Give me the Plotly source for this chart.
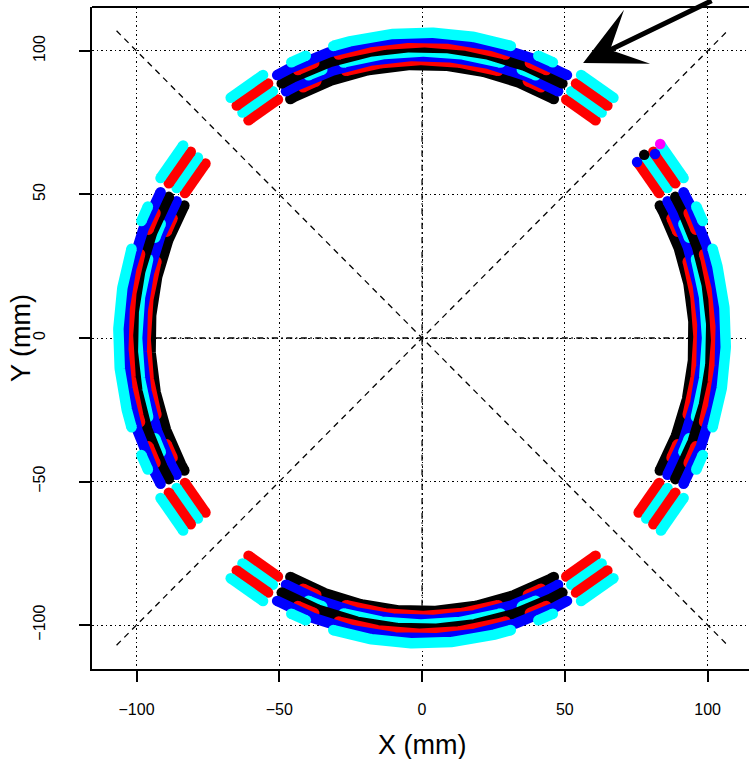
import numpy as np
import plotly.graph_objects as go

# ---------------- data ----------------
# centre angle (deg) of each of the four detector quadrants
quadrant_centers = [90, 0, 180, 270]

# main arc layers (drawn inner -> outer): colour, radius (mm), segments as angular offsets (deg) from quadrant centre
layer_colors = ["black", "red", "blue", "cyan", "black", "red", "blue", "cyan"]
layer_radii = [95.2, 96.8, 98.3, 99.8, 101.4, 103.0, 104.7, 106.4]
layer_segments = [
    [(-29.0, 29.0)],
    [(-25.5, -22.5), (-16.0, 16.0), (22.5, 25.5)],
    [(-29.0, 29.0)],
    [(-23.5, -20.5), (-16.0, 16.0), (20.5, 23.5)],
    [(-29.0, 29.0)],
    [(-25.0, -21.5), (-16.5, 16.5), (21.5, 25.0)],
    [(-29.0, 29.0)],
    [(-25.5, -22.5), (-17.0, 17.0), (22.5, 25.5)],
]

# end stubs of each quadrant (both sides)
stub_colors = ["red", "cyan", "red", "cyan"]
stub_radii = [97.2, 100.6, 103.8, 107.2]
stub_offsets = [(-38.7, -31.3), (31.3, 38.7)]

# single marked points at the upper right stubs
dot_x = [75.3, 77.8, 81.6, 83.4]
dot_y = [61.3, 63.8, 64.1, 67.6]
dot_colors = ["blue", "black", "blue", "magenta"]

# arrow head position (mm)
arrow_x, arrow_y = 56.4, 95.8

tick_vals = [-100, -50, 0, 50, 100]

color_map = {"black": "#000000", "red": "#FF0000", "blue": "#0000FF",
             "cyan": "#00FFFF", "magenta": "#FF00FF"}

BAND = 10.5
STEP = 0.25

fig = go.Figure()


def add_layer(radius, segments, color):
    xs, ys, cx, cy = [], [], [], []
    for qc in quadrant_centers:
        for a0, a1 in segments:
            n = int(abs(a1 - a0) / STEP) + 2
            ang = np.radians(qc + np.linspace(a0, a1, n))
            x = radius * np.cos(ang)
            y = radius * np.sin(ang)
            xs += list(x) + [None]
            ys += list(y) + [None]
            cx += [x[0], x[-1]]
            cy += [y[0], y[-1]]
    c = color_map[color]
    fig.add_trace(go.Scatter(x=xs, y=ys, mode="lines",
                             line=dict(color=c, width=BAND),
                             hoverinfo="skip", showlegend=False))
    fig.add_trace(go.Scatter(x=cx, y=cy, mode="markers",
                             marker=dict(color=c, size=BAND, line=dict(width=0)),
                             hoverinfo="skip", showlegend=False))


for r, segs, col in zip(layer_radii, layer_segments, layer_colors):
    add_layer(r, segs, col)

for r, col in zip(stub_radii, stub_colors):
    add_layer(r, stub_offsets, col)

fig.add_trace(go.Scatter(x=dot_x, y=dot_y, mode="markers",
                         marker=dict(color=[color_map[c] for c in dot_colors],
                                     size=BAND, line=dict(width=0)),
                         hoverinfo="skip", showlegend=False))

# ---------------- reference lines ----------------
shapes = []
shapes.append(dict(type="line", xref="x", yref="y", x0=-107, y0=107, x1=107, y1=-107,
                   line=dict(color="black", width=1.3, dash="6px,5px"), layer="below"))
shapes.append(dict(type="line", xref="x", yref="y", x0=-107, y0=-107, x1=107, y1=107,
                   line=dict(color="black", width=1.3, dash="6px,5px"), layer="below"))
shapes.append(dict(type="line", xref="x", yref="y", x0=-95, y0=0, x1=95, y1=0,
                   line=dict(color="black", width=1.3, dash="1.5px,3.5px,6px,3.5px"), layer="below"))
shapes.append(dict(type="line", xref="x", yref="y", x0=0, y0=-95, x1=0, y1=95,
                   line=dict(color="black", width=1.3, dash="1.5px,3.5px,6px,3.5px"), layer="below"))
shapes.append(dict(type="line", xref="paper", yref="paper", x0=0, y0=1, x1=1.05, y1=1,
                   line=dict(color="black", width=2)))

FONT = "Liberation Sans, Arial, Helvetica, sans-serif"

annotations = [
    dict(text="X (mm)", xref="x", yref="paper", x=0, y=-0.115, showarrow=False,
         xanchor="center", yanchor="middle", font=dict(size=27, family=FONT, color="black")),
    dict(text="Y (mm)", xref="paper", yref="y", x=-0.108, y=0, showarrow=False, textangle=-90,
         xanchor="center", yanchor="middle", font=dict(size=27, family=FONT, color="black")),
    dict(text="", xref="x", yref="y", x=arrow_x, y=arrow_y, showarrow=True,
         ax=130, ay=-66, arrowhead=3, arrowsize=2.0, arrowwidth=5, arrowcolor="black"),
]

fig.update_layout(
    width=749, height=759,
    margin=dict(l=92, r=0, t=7, b=90, autoexpand=False),
    plot_bgcolor="white", paper_bgcolor="white",
    showlegend=False, shapes=shapes, annotations=annotations,
    font=dict(family=FONT, color="black"),
)

axis_common = dict(
    tickvals=tick_vals, ticks="outside", ticklen=11, tickwidth=1.5, tickcolor="black",
    showline=True, linewidth=2, linecolor="black", automargin=False,
    showgrid=True, gridcolor="black", griddash="1.5px,3px", gridwidth=1.2,
    zeroline=False, tickfont=dict(size=16, family=FONT, color="black"),
)
fig.update_xaxes(range=[-115.6, 114.5], ticklabelstandoff=14, **axis_common)
fig.update_yaxes(range=[-115.3, 115.3], tickangle=-90, ticklabelstandoff=28, **axis_common)

fig.write_html("out.html", config={"displayModeBar": False},
               post_script="document.body.style.margin='0';document.body.style.overflow='hidden';")
